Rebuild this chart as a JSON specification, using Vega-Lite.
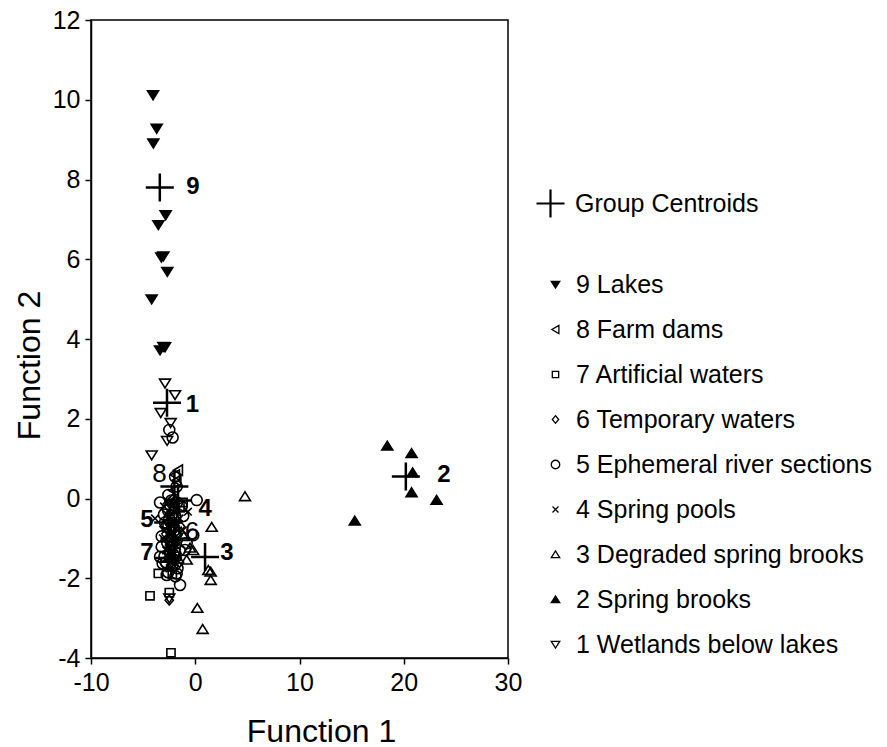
{
  "$schema": "https://vega.github.io/schema/vega-lite/v6.json",
  "width": 417,
  "height": 638,
  "autosize": {"type": "none"},
  "padding": {"left": 91, "top": 20, "right": 379, "bottom": 89},
  "background": "white",
  "config": {
    "font": "Liberation Sans",
    "view": {"stroke": "black", "strokeWidth": 1.5},
    "axis": {
      "grid": false,
      "domainColor": "black",
      "domainWidth": 1.5,
      "tickColor": "black",
      "tickWidth": 1.5,
      "tickSize": 6,
      "labelFont": "Liberation Sans",
      "labelFontSize": 25,
      "labelColor": "black",
      "labelFlush": false,
      "titleFont": "Liberation Sans",
      "titleFontSize": 32,
      "titleFontWeight": "normal",
      "titleColor": "black"
    },
    "legend": {
      "labelFont": "Liberation Sans",
      "labelFontSize": 25,
      "labelColor": "black",
      "labelLimit": 0,
      "padding": 0
    }
  },
  "datasets": {
    "pts": [
      {"f1": -4.05, "f2": 10.12, "g": "9 Lakes"},
      {"f1": -3.70, "f2": 9.28, "g": "9 Lakes"},
      {"f1": -4.02, "f2": 8.91, "g": "9 Lakes"},
      {"f1": -2.84, "f2": 7.11, "g": "9 Lakes"},
      {"f1": -3.54, "f2": 6.86, "g": "9 Lakes"},
      {"f1": -3.06, "f2": 6.08, "g": "9 Lakes"},
      {"f1": -3.25, "f2": 6.05, "g": "9 Lakes"},
      {"f1": -2.68, "f2": 5.69, "g": "9 Lakes"},
      {"f1": -4.18, "f2": 5.0, "g": "9 Lakes"},
      {"f1": -3.06, "f2": 3.81, "g": "9 Lakes"},
      {"f1": -3.38, "f2": 3.72, "g": "9 Lakes"},
      {"f1": -2.9, "f2": 3.8, "g": "9 Lakes"},
      {"f1": -1.65, "f2": 0.71, "g": "8 Farm dams"},
      {"f1": -1.94, "f2": 0.59, "g": "8 Farm dams"},
      {"f1": -1.8, "f2": 0.45, "g": "8 Farm dams"},
      {"f1": -2.1, "f2": 0.2, "g": "8 Farm dams"},
      {"f1": -1.5, "f2": -0.2, "g": "8 Farm dams"},
      {"f1": -2.4, "f2": -0.75, "g": "8 Farm dams"},
      {"f1": -1.9, "f2": -1.35, "g": "8 Farm dams"},
      {"f1": -2.2, "f2": -0.45, "g": "8 Farm dams"},
      {"f1": -2.6, "f2": -1.0, "g": "8 Farm dams"},
      {"f1": -3.54, "f2": -1.88, "g": "7 Artificial waters"},
      {"f1": -4.34, "f2": -2.44, "g": "7 Artificial waters"},
      {"f1": -2.49, "f2": -2.36, "g": "7 Artificial waters"},
      {"f1": -2.33, "f2": -3.87, "g": "7 Artificial waters"},
      {"f1": -1.17, "f2": -0.1, "g": "7 Artificial waters"},
      {"f1": -2.7, "f2": -0.65, "g": "7 Artificial waters"},
      {"f1": -2.2, "f2": -1.9, "g": "7 Artificial waters"},
      {"f1": -2.0, "f2": -0.2, "g": "7 Artificial waters"},
      {"f1": -1.8, "f2": -1.45, "g": "7 Artificial waters"},
      {"f1": -2.49, "f2": -2.55, "g": "6 Temporary waters"},
      {"f1": -2.2, "f2": -0.3, "g": "6 Temporary waters"},
      {"f1": -1.8, "f2": -0.9, "g": "6 Temporary waters"},
      {"f1": -2.6, "f2": -1.5, "g": "6 Temporary waters"},
      {"f1": -1.5, "f2": -1.6, "g": "6 Temporary waters"},
      {"f1": -3.0, "f2": -0.7, "g": "6 Temporary waters"},
      {"f1": -2.4, "f2": -1.15, "g": "6 Temporary waters"},
      {"f1": -1.4, "f2": -0.7, "g": "6 Temporary waters"},
      {"f1": -2.0, "f2": -1.55, "g": "6 Temporary waters"},
      {"f1": -2.1, "f2": 0.0, "g": "6 Temporary waters"},
      {"f1": -2.3, "f2": -0.9, "g": "6 Temporary waters"},
      {"f1": -1.9, "f2": -1.1, "g": "6 Temporary waters"},
      {"f1": -2.7, "f2": -1.35, "g": "6 Temporary waters"},
      {"f1": -2.49, "f2": 1.72, "g": "5 Ephemeral river sections"},
      {"f1": -2.17, "f2": 1.53, "g": "5 Ephemeral river sections"},
      {"f1": -1.94, "f2": 0.55, "g": "5 Ephemeral river sections"},
      {"f1": -1.78, "f2": 0.3, "g": "5 Ephemeral river sections"},
      {"f1": -2.58, "f2": 0.09, "g": "5 Ephemeral river sections"},
      {"f1": -3.38, "f2": -0.1, "g": "5 Ephemeral river sections"},
      {"f1": 0.14, "f2": -0.04, "g": "5 Ephemeral river sections"},
      {"f1": -1.46, "f2": -2.17, "g": "5 Ephemeral river sections"},
      {"f1": -2.74, "f2": -1.92, "g": "5 Ephemeral river sections"},
      {"f1": -1.78, "f2": -1.88, "g": "5 Ephemeral river sections"},
      {"f1": -0.98, "f2": -1.29, "g": "5 Ephemeral river sections"},
      {"f1": -0.82, "f2": -1.12, "g": "5 Ephemeral river sections"},
      {"f1": -0.19, "f2": -0.92, "g": "5 Ephemeral river sections"},
      {"f1": -1.15, "f2": -0.44, "g": "5 Ephemeral river sections"},
      {"f1": -3.22, "f2": -0.95, "g": "5 Ephemeral river sections"},
      {"f1": -3.22, "f2": -1.21, "g": "5 Ephemeral river sections"},
      {"f1": -3.38, "f2": -1.46, "g": "5 Ephemeral river sections"},
      {"f1": -3.13, "f2": -1.63, "g": "5 Ephemeral river sections"},
      {"f1": -2.5, "f2": -0.5, "g": "5 Ephemeral river sections"},
      {"f1": -2.0, "f2": -0.8, "g": "5 Ephemeral river sections"},
      {"f1": -2.8, "f2": -1.6, "g": "5 Ephemeral river sections"},
      {"f1": -2.2, "f2": -1.7, "g": "5 Ephemeral river sections"},
      {"f1": -1.9, "f2": -1.95, "g": "5 Ephemeral river sections"},
      {"f1": -2.6, "f2": -1.85, "g": "5 Ephemeral river sections"},
      {"f1": -1.5, "f2": -1.3, "g": "5 Ephemeral river sections"},
      {"f1": -2.35, "f2": -0.6, "g": "5 Ephemeral river sections"},
      {"f1": -3.0, "f2": -0.4, "g": "5 Ephemeral river sections"},
      {"f1": -1.3, "f2": -0.2, "g": "5 Ephemeral river sections"},
      {"f1": -2.7, "f2": -1.1, "g": "5 Ephemeral river sections"},
      {"f1": -1.75, "f2": -0.1, "g": "5 Ephemeral river sections"},
      {"f1": -2.3, "f2": -0.05, "g": "5 Ephemeral river sections"},
      {"f1": -2.9, "f2": -0.6, "g": "5 Ephemeral river sections"},
      {"f1": -1.9, "f2": -0.45, "g": "5 Ephemeral river sections"},
      {"f1": -2.4, "f2": -1.3, "g": "5 Ephemeral river sections"},
      {"f1": -2.1, "f2": -1.4, "g": "5 Ephemeral river sections"},
      {"f1": -2.6, "f2": -0.3, "g": "5 Ephemeral river sections"},
      {"f1": -1.7, "f2": -1.75, "g": "5 Ephemeral river sections"},
      {"f1": -2.95, "f2": -1.45, "g": "5 Ephemeral river sections"},
      {"f1": -3.86, "f2": -0.5, "g": "4 Spring pools"},
      {"f1": -0.7, "f2": -0.33, "g": "4 Spring pools"},
      {"f1": -3.0, "f2": -0.2, "g": "4 Spring pools"},
      {"f1": -2.7, "f2": -0.4, "g": "4 Spring pools"},
      {"f1": -2.4, "f2": -0.25, "g": "4 Spring pools"},
      {"f1": -2.1, "f2": -0.55, "g": "4 Spring pools"},
      {"f1": -1.8, "f2": -0.35, "g": "4 Spring pools"},
      {"f1": -1.5, "f2": -0.5, "g": "4 Spring pools"},
      {"f1": -2.9, "f2": -0.8, "g": "4 Spring pools"},
      {"f1": -2.5, "f2": -0.9, "g": "4 Spring pools"},
      {"f1": -2.2, "f2": -1.05, "g": "4 Spring pools"},
      {"f1": -1.9, "f2": -0.75, "g": "4 Spring pools"},
      {"f1": -1.6, "f2": -1.0, "g": "4 Spring pools"},
      {"f1": -2.8, "f2": -1.3, "g": "4 Spring pools"},
      {"f1": -2.3, "f2": -1.4, "g": "4 Spring pools"},
      {"f1": -2.0, "f2": -1.25, "g": "4 Spring pools"},
      {"f1": -1.7, "f2": -1.55, "g": "4 Spring pools"},
      {"f1": -3.1, "f2": -1.0, "g": "4 Spring pools"},
      {"f1": -1.2, "f2": -0.8, "g": "4 Spring pools"},
      {"f1": -2.6, "f2": -0.1, "g": "4 Spring pools"},
      {"f1": -2.75, "f2": -0.05, "g": "4 Spring pools"},
      {"f1": -2.45, "f2": -0.45, "g": "4 Spring pools"},
      {"f1": -2.15, "f2": -0.15, "g": "4 Spring pools"},
      {"f1": -1.85, "f2": -0.6, "g": "4 Spring pools"},
      {"f1": -2.65, "f2": -0.7, "g": "4 Spring pools"},
      {"f1": -2.35, "f2": -0.85, "g": "4 Spring pools"},
      {"f1": -2.05, "f2": -1.0, "g": "4 Spring pools"},
      {"f1": -1.75, "f2": -1.2, "g": "4 Spring pools"},
      {"f1": -2.55, "f2": -1.25, "g": "4 Spring pools"},
      {"f1": -2.25, "f2": -1.55, "g": "4 Spring pools"},
      {"f1": -1.95, "f2": -1.7, "g": "4 Spring pools"},
      {"f1": -2.45, "f2": -1.75, "g": "4 Spring pools"},
      {"f1": -2.85, "f2": -1.0, "g": "4 Spring pools"},
      {"f1": -1.65, "f2": -0.8, "g": "4 Spring pools"},
      {"f1": 4.77, "f2": 0.05, "g": "3 Degraded spring brooks"},
      {"f1": 1.58, "f2": -0.72, "g": "3 Degraded spring brooks"},
      {"f1": 1.48, "f2": -1.84, "g": "3 Degraded spring brooks"},
      {"f1": 1.48, "f2": -2.05, "g": "3 Degraded spring brooks"},
      {"f1": 1.25, "f2": -1.8, "g": "3 Degraded spring brooks"},
      {"f1": 0.2, "f2": -2.75, "g": "3 Degraded spring brooks"},
      {"f1": 0.71, "f2": -3.28, "g": "3 Degraded spring brooks"},
      {"f1": -0.5, "f2": -1.24, "g": "3 Degraded spring brooks"},
      {"f1": -0.82, "f2": -1.54, "g": "3 Degraded spring brooks"},
      {"f1": -0.2, "f2": -1.3, "g": "3 Degraded spring brooks"},
      {"f1": -1.1, "f2": -0.95, "g": "3 Degraded spring brooks"},
      {"f1": 18.42, "f2": 1.32, "g": "2 Spring brooks"},
      {"f1": 20.75, "f2": 1.13, "g": "2 Spring brooks"},
      {"f1": 20.85, "f2": 0.65, "g": "2 Spring brooks"},
      {"f1": 20.75, "f2": 0.15, "g": "2 Spring brooks"},
      {"f1": 23.15, "f2": -0.04, "g": "2 Spring brooks"},
      {"f1": 15.3, "f2": -0.56, "g": "2 Spring brooks"},
      {"f1": -2.9, "f2": 2.89, "g": "1 Wetlands below lakes"},
      {"f1": -1.94, "f2": 2.6, "g": "1 Wetlands below lakes"},
      {"f1": -3.31, "f2": 2.15, "g": "1 Wetlands below lakes"},
      {"f1": -2.36, "f2": 1.9, "g": "1 Wetlands below lakes"},
      {"f1": -2.7, "f2": 1.45, "g": "1 Wetlands below lakes"},
      {"f1": -4.18, "f2": 1.09, "g": "1 Wetlands below lakes"},
      {"f1": -2.49, "f2": -2.5, "g": "1 Wetlands below lakes"},
      {"f1": -2.9, "f2": -1.7, "g": "1 Wetlands below lakes"},
      {"f1": -2.2, "f2": -1.2, "g": "1 Wetlands below lakes"}
    ],
    "cent": [
      {"g": "9", "kind": "Group Centroids", "f1": -3.4, "f2": 7.8, "lx": -0.22, "ly": 7.8},
      {"g": "8", "kind": "Group Centroids", "f1": -2.0, "f2": 0.3, "lx": -3.43, "ly": 0.61},
      {"g": "7", "kind": "Group Centroids", "f1": -2.6, "f2": -1.49, "lx": -4.63, "ly": -1.37},
      {"g": "6", "kind": "Group Centroids", "f1": -2.0, "f2": -1.0, "lx": -0.31, "ly": -0.83},
      {"g": "5", "kind": "Group Centroids", "f1": -2.6, "f2": -0.6, "lx": -4.63, "ly": -0.54},
      {"g": "4", "kind": "Group Centroids", "f1": -1.65, "f2": -0.05, "lx": 0.94, "ly": -0.26},
      {"g": "3", "kind": "Group Centroids", "f1": 0.94, "f2": -1.47, "lx": 3.05, "ly": -1.37},
      {"g": "2", "kind": "Group Centroids", "f1": 20.2, "f2": 0.55, "lx": 23.86, "ly": 0.6},
      {"g": "1", "kind": "Group Centroids", "f1": -2.71, "f2": 2.4, "lx": -0.26, "ly": 2.34}
    ]
  },
  "layer": [
    {
      "data": {"name": "pts"},
      "mark": {"type": "point", "filled": true, "strokeWidth": 1.6, "size": 120, "opacity": 1},
      "encoding": {
        "x": {
          "field": "f1", "type": "quantitative",
          "scale": {"domain": [-10, 30], "nice": false, "zero": false},
          "axis": {"values": [-10, 0, 10, 20, 30], "title": "Function 1", "labelPadding": 6, "labelFlush": false, "labelExpr": "replace(datum.label, '\u2212', '-')", "titleX": 230, "titleY": 58, "titleBaseline": "top", "titleAnchor": "middle"}
        },
        "y": {
          "field": "f2", "type": "quantitative",
          "scale": {"domain": [-4, 12], "nice": false, "zero": false},
          "axis": {"values": [-4, -2, 0, 2, 4, 6, 8, 10, 12], "title": "Function 2", "labelPadding": 5, "labelFlush": false, "labelExpr": "replace(datum.label, '\u2212', '-')", "titleX": -62, "titleY": 345, "titleBaseline": "middle", "titleAnchor": "middle"}
        },
        "shape": {
          "field": "g", "type": "nominal",
          "scale": {
            "domain": ["9 Lakes", "8 Farm dams", "7 Artificial waters", "6 Temporary waters", "5 Ephemeral river sections", "4 Spring pools", "3 Degraded spring brooks", "2 Spring brooks", "1 Wetlands below lakes"],
            "range": ["M-1,-0.75L1,-0.75L0,0.85Z", "M0.8,-0.95L0.8,0.95L-0.85,0Z", "M-0.75,-0.75H0.75V0.75H-0.75Z", "M0,-0.9L0.75,0L0,0.9L-0.75,0Z", "circle", "M-0.7,-0.7L0.7,0.7M-0.7,0.7L0.7,-0.7", "M-1,0.75L1,0.75L0,-0.85Z", "M-1,0.75L1,0.75L0,-0.85Z", "M-1,-0.75L1,-0.75L0,0.85Z"]
          },
          "legend": {"orient": "none", "legendX": 452, "legendY": 252, "title": null, "symbolSize": 72, "symbolStrokeWidth": 1.3, "labelFontSize": 25, "labelOffset": 8, "rowPadding": 19, "labelLimit": 0}
        },
        "fill": {
          "field": "g", "type": "nominal",
          "scale": {
            "domain": ["9 Lakes", "8 Farm dams", "7 Artificial waters", "6 Temporary waters", "5 Ephemeral river sections", "4 Spring pools", "3 Degraded spring brooks", "2 Spring brooks", "1 Wetlands below lakes"],
            "range": ["black", "transparent", "transparent", "transparent", "transparent", "transparent", "transparent", "black", "transparent"]
          },
          "legend": {"orient": "none", "legendX": 452, "legendY": 252, "title": null, "symbolSize": 72, "symbolStrokeWidth": 1.3, "labelFontSize": 25, "labelOffset": 8, "rowPadding": 19, "labelLimit": 0}
        },
        "stroke": {
          "field": "g", "type": "nominal",
          "scale": {
            "domain": ["9 Lakes", "8 Farm dams", "7 Artificial waters", "6 Temporary waters", "5 Ephemeral river sections", "4 Spring pools", "3 Degraded spring brooks", "2 Spring brooks", "1 Wetlands below lakes"],
            "range": ["black", "black", "black", "black", "black", "black", "black", "black", "black"]
          },
          "legend": {"orient": "none", "legendX": 452, "legendY": 252, "title": null, "symbolSize": 72, "symbolStrokeWidth": 1.3, "labelFontSize": 25, "labelOffset": 8, "rowPadding": 19, "labelLimit": 0}
        }
      }
    },
    {
      "data": {"name": "cent"},
      "mark": {"type": "point", "shape": "M-1,0H1M0,-1V1", "size": 784, "strokeWidth": 2.5, "filled": false, "opacity": 1},
      "encoding": {
        "x": {"field": "f1", "type": "quantitative"},
        "y": {"field": "f2", "type": "quantitative"},
        "color": {
          "field": "kind", "type": "nominal",
          "scale": {"range": ["black"]},
          "legend": {"orient": "none", "legendX": 444, "legendY": 168, "title": null, "symbolType": "M-1,0H1M0,-1V1", "symbolSize": 784, "symbolStrokeWidth": 2.2, "symbolFillColor": "transparent", "labelFontSize": 25, "labelOffset": 9, "labelLimit": 0}
        }
      }
    },
    {
      "data": {"name": "cent"},
      "transform": [{"filter": "datum.g != '8' && datum.g != '6'"}],
      "mark": {"type": "text", "font": "Liberation Sans", "fontSize": 24, "fontWeight": "bold", "align": "center", "baseline": "middle", "color": "black"},
      "encoding": {
        "x": {"field": "lx", "type": "quantitative"},
        "y": {"field": "ly", "type": "quantitative"},
        "text": {"field": "g", "type": "nominal"}
      }
    },
    {
      "data": {"name": "cent"},
      "transform": [{"filter": "datum.g == '8' || datum.g == '6'"}],
      "mark": {"type": "text", "font": "Liberation Sans", "fontSize": 26, "fontWeight": "normal", "align": "center", "baseline": "middle", "color": "black"},
      "encoding": {
        "x": {"field": "lx", "type": "quantitative"},
        "y": {"field": "ly", "type": "quantitative"},
        "text": {"field": "g", "type": "nominal"}
      }
    }
  ]
}
